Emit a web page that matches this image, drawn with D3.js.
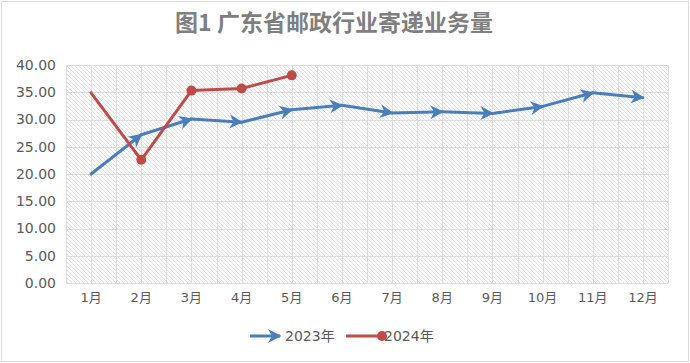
<!DOCTYPE html>
<html>
<head>
<meta charset="utf-8">
<script src="https://cdn.jsdelivr.net/npm/d3@7"></script>
<style>
   body { margin: 0; background: #fff; }
   svg { display: block; }
</style>
</head>
<body>
<svg width="690" height="363"></svg>
<script>
var months = ['1月', '2月', '3月', '4月', '5月', '6月', '7月', '8月', '9月', '10月', '11月', '12月'];
var values2023 = [20.0, 27.2, 30.1, 29.5, 31.8, 32.6, 31.2, 31.4, 31.1, 32.4, 34.9, 34.0];
var values2024 = [34.9, 22.6, 35.3, 35.7, 38.1];
var yTicks = [0, 5, 10, 15, 20, 25, 30, 35, 40];
var seriesNames = ['2023年', '2024年'];

var svg = d3.select('svg');
var width = +svg.attr('width'), height = +svg.attr('height');

var margin = {top: 65, right: 22, bottom: 80, left: 66};
var innerW = width - margin.left - margin.right;
var innerH = height - margin.top - margin.bottom;

var blue = '#4a7ebb', red = '#be4b48', gridColor = '#dedede', textColor = '#595959';

// outer frame
svg.append('rect')
   .attr('x', 1.5).attr('y', 1.5)
   .attr('width', width - 3).attr('height', height - 3)
   .attr('fill', '#fff').attr('stroke', '#d9d9d9').attr('stroke-width', 1);

var defs = svg.append('defs');

// diagonal hatch for the plot area
var hatch = defs.append('pattern')
   .attr('id', 'hatch')
   .attr('patternUnits', 'userSpaceOnUse')
   .attr('width', 4).attr('height', 4);
hatch.append('rect').attr('width', 4).attr('height', 4).attr('fill', '#fff');
hatch.append('path')
   .attr('d', 'M-1,-1 L5,5 M-1,3 L1,5 M3,-1 L5,1')
   .attr('stroke', '#e0e0e0').attr('stroke-width', 1);

defs.append('marker')
   .attr('id', 'arrow')
   .attr('markerUnits', 'userSpaceOnUse')
   .attr('viewBox', '-13 -8 16 16')
   .attr('markerWidth', 16).attr('markerHeight', 16)
   .attr('refX', 0).attr('refY', 0)
   .attr('orient', 'auto')
   .append('path')
   .attr('d', 'M-12,-7 L1.5,0 L-12,7 L-8,0 Z')
   .attr('fill', blue);

defs.append('marker')
   .attr('id', 'dot')
   .attr('markerUnits', 'userSpaceOnUse')
   .attr('viewBox', '-6 -6 12 12')
   .attr('markerWidth', 12).attr('markerHeight', 12)
   .attr('refX', 0).attr('refY', 0)
   .append('circle')
   .attr('r', 5)
   .attr('fill', red);

// title
svg.append('text')
   .attr('x', 334).attr('y', 31)
   .attr('text-anchor', 'middle')
   .attr('fill', '#7f7f7f')
   .style('font', 'bold 23px "Noto Sans CJK SC", sans-serif')
   .text('图1 广东省邮政行业寄递业务量');

var g = svg.append('g').attr('transform', 'translate(' + margin.left + ',' + margin.top + ')');

var x = d3.scaleBand().domain(months).range([0, innerW]);
var y = d3.scaleLinear().domain([0, 40]).range([innerH, 0]);

g.append('rect')
   .attr('width', innerW).attr('height', innerH)
   .attr('fill', 'url(#hatch)');

// gridlines: every half category, every 5 units
var halfSteps = d3.range(0, months.length * 2 + 1);
g.append('g').selectAll('line')
   .data(halfSteps)
   .enter().append('line')
   .attr('x1', function (d) { return Math.round(d * x.step() / 2) + 0.5; })
   .attr('x2', function (d) { return Math.round(d * x.step() / 2) + 0.5; })
   .attr('y1', 0).attr('y2', innerH)
   .attr('stroke', gridColor);

g.append('g').selectAll('line')
   .data(yTicks)
   .enter().append('line')
   .attr('x1', 0).attr('x2', innerW)
   .attr('y1', function (d) { return Math.round(y(d)) + 0.5; })
   .attr('y2', function (d) { return Math.round(y(d)) + 0.5; })
   .attr('stroke', gridColor);

// axes
var yAxis = g.append('g')
   .call(d3.axisLeft(y).tickValues(yTicks).tickFormat(d3.format('.2f')).tickSize(0).tickPadding(10));
yAxis.select('.domain').remove();
yAxis.selectAll('text')
   .attr('fill', textColor)
   .style('font', '14px "DejaVu Sans", sans-serif');

var xAxis = g.append('g')
   .attr('transform', 'translate(0,' + innerH + ')')
   .call(d3.axisBottom(x).tickSize(0).tickPadding(10));
xAxis.select('.domain').remove();
xAxis.selectAll('text')
   .attr('fill', textColor)
   .style('font', '13px "DejaVu Sans", "Noto Sans CJK SC", sans-serif');

function cx(i) { return x(months[i]) + x.bandwidth() / 2; }

// draw each segment separately so every point gets its own end marker
function drawSeries(values, color, marker) {
   var segs = d3.range(1, values.length).map(function (i) {
      return [[cx(i - 1), y(values[i - 1])], [cx(i), y(values[i])]];
   });
   g.append('g').selectAll('path')
      .data(segs)
      .enter().append('path')
      .attr('d', d3.line())
      .attr('fill', 'none')
      .attr('stroke', color)
      .attr('stroke-width', 3)
      .attr('stroke-linecap', 'round')
      .attr('marker-end', 'url(#' + marker + ')');
}

drawSeries(values2023, blue, 'arrow');
drawSeries(values2024, red, 'dot');

// legend
var legend = svg.append('g').attr('transform', 'translate(0,336)');
legend.append('line')
   .attr('x1', 250).attr('x2', 280).attr('y1', 0).attr('y2', 0)
   .attr('stroke', blue).attr('stroke-width', 3)
   .attr('marker-end', 'url(#arrow)');
legend.append('text')
   .attr('x', 285).attr('y', 5)
   .attr('fill', textColor)
   .style('font', '14px "DejaVu Sans", "Noto Sans CJK SC", sans-serif')
   .text(seriesNames[0]);
legend.append('line')
   .attr('x1', 346).attr('x2', 382).attr('y1', 0).attr('y2', 0)
   .attr('stroke', red).attr('stroke-width', 3)
   .attr('marker-end', 'url(#dot)');
legend.append('text')
   .attr('x', 384).attr('y', 5)
   .attr('fill', textColor)
   .style('font', '14px "DejaVu Sans", "Noto Sans CJK SC", sans-serif')
   .text(seriesNames[1]);
</script>
</body>
</html>
